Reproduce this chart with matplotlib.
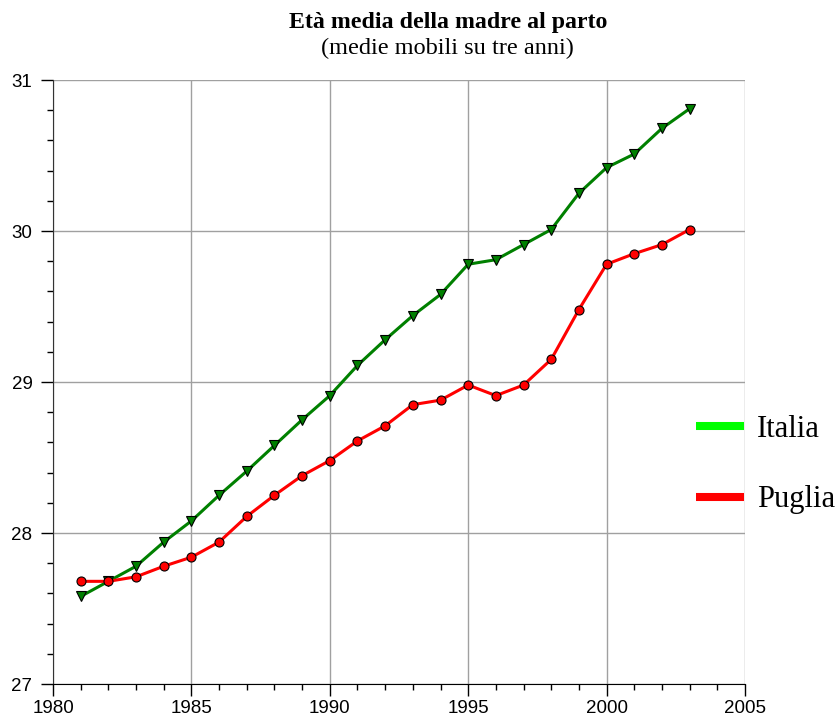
import numpy as np
import matplotlib.pyplot as plt
from matplotlib.lines import Line2D
from matplotlib.ticker import MultipleLocator

years = np.arange(1981, 2004)
italia = [27.58, 27.68, 27.78, 27.94, 28.08, 28.25, 28.41, 28.58, 28.75, 28.91,
          29.11, 29.28, 29.44, 29.58, 29.78, 29.81, 29.91, 30.01, 30.25, 30.42,
          30.51, 30.68, 30.81]
puglia = [27.68, 27.68, 27.71, 27.78, 27.84, 27.94, 28.11, 28.25, 28.38, 28.48,
          28.61, 28.71, 28.85, 28.88, 28.98, 28.91, 28.98, 29.15, 29.48, 29.78,
          29.85, 29.91, 30.01]

serif = ['Liberation Serif', 'DejaVu Serif']
sans = ['Liberation Sans', 'DejaVu Sans']

fig = plt.figure(figsize=(8.4, 7.17), dpi=100)
ax = fig.add_axes([0.0631, 0.046, 0.8238, 0.8424])

ax.plot(years, italia, color='#008000', lw=2.2, marker='v', ms=7.5,
        mfc='#008000', mec='black', mew=0.8, zorder=3)
ax.plot(years, puglia, color='#ff0000', lw=2.2, marker='o', ms=6.5,
        mfc='#ff0000', mec='black', mew=0.8, zorder=3)

ax.set_xlim(1980, 2005)
ax.set_ylim(27, 31)
ax.xaxis.set_major_locator(MultipleLocator(5))
ax.xaxis.set_minor_locator(MultipleLocator(1))
ax.yaxis.set_major_locator(MultipleLocator(1))
ax.yaxis.set_minor_locator(MultipleLocator(0.2))
ax.grid(True, which='major', color='#a0a0a0', lw=1.0)
ax.set_axisbelow(True)

for s in ['top', 'right']:
    ax.spines[s].set_visible(False)
ax.spines['left'].set_color('#333333')
ax.spines['bottom'].set_color('black')
ax.tick_params(which='major', direction='out', length=8.8, width=1, labelsize=13.5)
ax.tick_params(which='minor', direction='out', length=4.3, width=1)
ax.tick_params(axis='x', which='major', pad=3)
ax.tick_params(axis='y', which='major', pad=6)
for lab in ax.get_xticklabels() + ax.get_yticklabels():
    lab.set_family(sans)

fig.text(0.533, 0.969, 'Età media della madre al parto', ha='center', va='center',
         family=serif, fontweight='bold', fontsize=17.2)
fig.text(0.533, 0.933, '(medie mobili su tre anni)', ha='center', va='center',
         family=serif, fontsize=17.5)

handles = [Line2D([], [], color='#00ff00', lw=5.8, solid_capstyle='butt'),
           Line2D([], [], color='#ff0000', lw=5.8, solid_capstyle='butt')]
ax.legend(handles, ['Italia', 'Puglia'], loc='center left', bbox_to_anchor=(0.814, 0.352),
          bbox_transform=fig.transFigure, frameon=False, prop={'family': serif, 'size': 22},
          handlelength=1.57, handletextpad=0.42, labelspacing=1.35, borderaxespad=0)

fig.savefig('out.png', dpi=100)
